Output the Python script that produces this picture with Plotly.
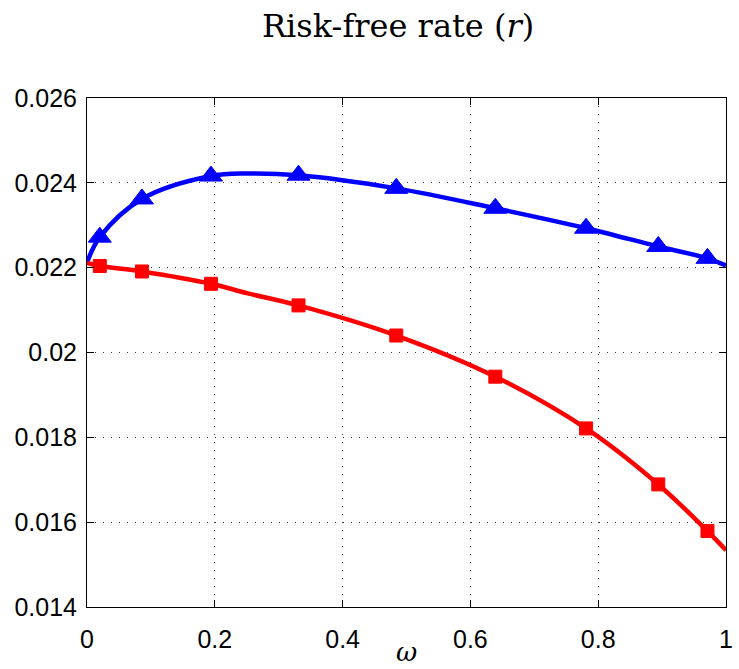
import plotly.graph_objects as go

# Marker nodes (omega)
omega_nodes = [0.02, 0.086, 0.194, 0.331, 0.484, 0.639, 0.781, 0.894, 0.971]
# Full curve x (with end points)
omega_curve = [0.0, 0.02, 0.086, 0.194, 0.25, 0.331, 0.484, 0.639, 0.781, 0.894, 0.971, 1.0]

blue_curve = [0.02212, 0.02272, 0.02362, 0.02416, 0.02422, 0.02418, 0.02387, 0.02340, 0.02293, 0.02250, 0.02222, 0.02205]
blue_nodes = [0.02272, 0.02362, 0.02416, 0.02418, 0.02387, 0.02340, 0.02293, 0.02250, 0.02222]

red_curve = [0.02211, 0.02204, 0.02191, 0.02162, 0.02140, 0.02111, 0.02040, 0.01943, 0.01821, 0.01689, 0.01579, 0.01534]
red_nodes = [0.02204, 0.02191, 0.02162, 0.02111, 0.02040, 0.01943, 0.01821, 0.01689, 0.01579]

x_ticks = [0, 0.2, 0.4, 0.6, 0.8, 1]
x_ticklabels = ["0", "0.2", "0.4", "0.6", "0.8", "1"]
y_ticks = [0.014, 0.016, 0.018, 0.020, 0.022, 0.024, 0.026]
y_ticklabels = ["0.014", "0.016", "0.018", "0.02", "0.022", "0.024", "0.026"]

title_text = "Risk-free rate (<i>r</i>)"
xlabel_text = "<i>ω</i>"

BLUE = "#0000FF"
RED = "#FF0000"

fig = go.Figure()
fig.add_trace(go.Scatter(x=omega_curve, y=blue_curve, mode="lines",
                         line=dict(color=BLUE, width=4.5, shape="spline", smoothing=1.0),
                         showlegend=False, hoverinfo="skip"))
fig.add_trace(go.Scatter(x=omega_nodes, y=blue_nodes, mode="markers",
                         marker=dict(symbol="triangle-up", size=20, color=BLUE,
                                     line=dict(color=BLUE, width=1)),
                         showlegend=False))
fig.add_trace(go.Scatter(x=omega_curve, y=red_curve, mode="lines",
                         line=dict(color=RED, width=4.5, shape="spline", smoothing=1.0),
                         showlegend=False, hoverinfo="skip"))
fig.add_trace(go.Scatter(x=omega_nodes, y=red_nodes, mode="markers",
                         marker=dict(symbol="square", size=13, color=RED,
                                     line=dict(color=RED, width=1)),
                         showlegend=False))

axis_common = dict(
    showline=True, linecolor="black", linewidth=1, mirror="ticks",
    ticks="inside", ticklen=7, tickcolor="black", tickwidth=1,
    showgrid=True, gridcolor="#333333", gridwidth=1, griddash="1px,7px",
    zeroline=False, ticklabeloverflow="allow",
    tickfont=dict(family="Liberation Sans, Arial, sans-serif", size=25, color="black"),
)

fig.update_xaxes(range=[0, 1], tickvals=x_ticks, ticktext=x_ticklabels,
                 ticklabelstandoff=10, **axis_common)
fig.update_yaxes(range=[0.014, 0.026], tickvals=y_ticks, ticktext=y_ticklabels,
                 ticklabelstandoff=4, **axis_common)

fig.add_annotation(text=title_text, xref="paper", yref="paper",
                   x=0.486, y=1 + (98 - 26) / 509, xanchor="center", yanchor="middle",
                   showarrow=False,
                   font=dict(family="DejaVu Serif, Liberation Serif, serif", size=32, color="black"))
fig.add_annotation(text=xlabel_text, xref="paper", yref="paper",
                   x=0.5, y=-(652 - 607) / 509, xanchor="center", yanchor="middle",
                   showarrow=False,
                   font=dict(family="DejaVu Serif, Liberation Serif, serif", size=26, color="black"))

fig.update_layout(width=739, height=669,
                  margin=dict(l=87, r=6, t=98, b=62),
                  paper_bgcolor="white", plot_bgcolor="white")

fig.write_html("out.html", config={"displayModeBar": False},
               post_script="document.body.style.margin='0';document.body.style.overflow='hidden';")
